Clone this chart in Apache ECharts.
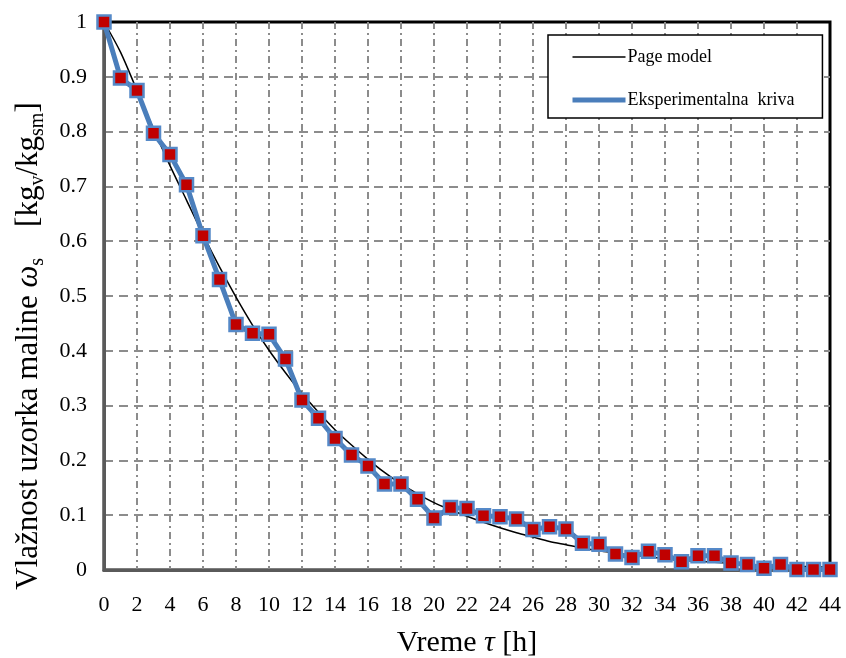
<!DOCTYPE html>
<html>
<head>
<meta charset="utf-8">
<script src="https://cdn.jsdelivr.net/npm/echarts@6/dist/echarts.min.js"></script>
<style>
  html, body { margin: 0; padding: 0; background: #fff; }
  #chart { width: 846px; height: 658px; }
</style>
</head>
<body>
<div id="chart"></div>
<script>
// time in hours, one sample per hour
const hours = [
  0, 1, 2, 3, 4, 5, 6, 7, 8, 9, 10, 11, 12, 13, 14, 15, 16, 17, 18, 19, 20, 21,
  22, 23, 24, 25, 26, 27, 28, 29, 30, 31, 32, 33, 34, 35, 36, 37, 38, 39, 40,
  41, 42, 43, 44,
];
const experimental = [
  1.0, 0.898, 0.875, 0.797, 0.758, 0.703, 0.61, 0.53, 0.448, 0.432, 0.43,
  0.385, 0.31, 0.277, 0.24, 0.21, 0.19, 0.157, 0.157, 0.129, 0.095, 0.114,
  0.112, 0.099, 0.097, 0.093, 0.074, 0.079, 0.075, 0.049, 0.047, 0.029, 0.023,
  0.034, 0.028, 0.015, 0.026, 0.026, 0.013, 0.01, 0.003, 0.01, 0.001, 0.001,
  0.001,
];
// Page model curve
const pageModel = [
  1.0, 0.945, 0.875, 0.805, 0.738, 0.675, 0.612, 0.553, 0.498, 0.447, 0.401,
  0.36, 0.322, 0.288, 0.256, 0.228, 0.202, 0.178, 0.157, 0.139, 0.123, 0.11,
  0.098, 0.087, 0.077, 0.068, 0.06, 0.052, 0.046, 0.04, 0.035, 0.031, 0.027,
  0.024, 0.021, 0.018, 0.016, 0.014, 0.012, 0.01, 0.009, 0.008, 0.007, 0.006,
  0.005,
];

const FONT = "Liberation Serif";
const EXP_NAME = "Eksperimentalna  kriva";
const MODEL_NAME = "Page model";

const chart = echarts.init(document.getElementById("chart"));

const option = {
  animation: false,
  backgroundColor: "#fff",
  textStyle: { fontFamily: FONT, color: "#000" },
  grid: {
    left: 104,
    right: 16,
    top: 22,
    bottom: 88,
    outerBoundsMode: "none",
    show: true,
    borderColor: "#000",
    borderWidth: 3,
  },
  legend: {
    orient: "vertical",
    left: 548,
    top: 35,
    padding: [13, 28, 9, 22],
    itemGap: 25,
    itemWidth: 53,
    itemHeight: 18,
    backgroundColor: "#fff",
    borderColor: "#000",
    borderWidth: 1.5,
    borderRadius: 0,
    itemStyle: { opacity: 0 },
    textStyle: { fontFamily: FONT, fontSize: 18, color: "#000", padding: [0, 0, 0, -3] },
    data: [
      { name: MODEL_NAME, lineStyle: { color: "#000", width: 1.3 } },
      { name: EXP_NAME, lineStyle: { color: "#4a7ebb", width: 5 } },
    ],
  },
  xAxis: {
    type: "value",
    min: 0,
    max: 44,
    interval: 2,
    name: "Vreme {i|τ} [h]",
    nameLocation: "middle",
    nameGap: 58,
    nameTextStyle: {
      fontFamily: FONT,
      fontSize: 30,
      color: "#000",
      rich: {
        i: { fontFamily: FONT, fontSize: 30, fontStyle: "italic", color: "#000" },
      },
    },
    axisLine: { onZero: false, lineStyle: { color: "#5a5a5a", width: 3 } },
    axisTick: { show: false },
    axisLabel: { fontFamily: FONT, fontSize: 22, color: "#000", margin: 24 },
    splitLine: {
      show: true,
      showMinLine: false,
      showMaxLine: false,
      lineStyle: { color: "#8c8c8c", width: 2, type: [7, 4, 2, 4] },
    },
  },
  yAxis: {
    type: "value",
    min: 0,
    max: 1,
    interval: 0.1,
    name:
      "{n|Vlažnost uzorka maline }{i|ω}{sub|s}{n|    [kg}{sub|v}{n|/kg}{sub|sm}{n|]}",
    nameLocation: "middle",
    nameRotate: 90,
    nameGap: 56,
    nameTextStyle: {
      padding: [0, 100, 0, 0],
      rich: {
        n: { fontFamily: FONT, fontSize: 31, color: "#000", lineHeight: 38 },
        i: {
          fontFamily: FONT,
          fontSize: 31,
          fontStyle: "italic",
          color: "#000",
          lineHeight: 38,
        },
        sub: {
          fontFamily: FONT,
          fontSize: 20,
          color: "#000",
          lineHeight: 38,
          verticalAlign: "bottom",
        },
      },
    },
    axisLine: { show: true, lineStyle: { color: "#5a5a5a", width: 3 } },
    axisTick: { show: false },
    axisLabel: { fontFamily: FONT, fontSize: 22, color: "#000", margin: 17 },
    splitLine: {
      show: true,
      showMinLine: false,
      showMaxLine: false,
      lineStyle: { color: "#8c8c8c", width: 2, type: [9, 6] },
    },
  },
  series: [
    {
      name: MODEL_NAME,
      type: "line",
      data: hours.map((h, i) => [h, pageModel[i]]),
      symbol: "none",
      smooth: 0.3,
      lineStyle: { color: "#000", width: 1.5 },
      itemStyle: { color: "#000" },
      z: 2,
    },
    {
      name: EXP_NAME,
      type: "line",
      data: hours.map((h, i) => [h, experimental[i]]),
      symbol: "rect",
      symbolSize: 13,
      lineStyle: { color: "#4a7ebb", width: 5 },
      itemStyle: { color: "#c00000", borderColor: "#5589c8", borderWidth: 2.5 },
      z: 3,
    },
  ],
};

chart.setOption(option);

window.addEventListener("resize", () => chart.resize());
</script>
</body>
</html>
